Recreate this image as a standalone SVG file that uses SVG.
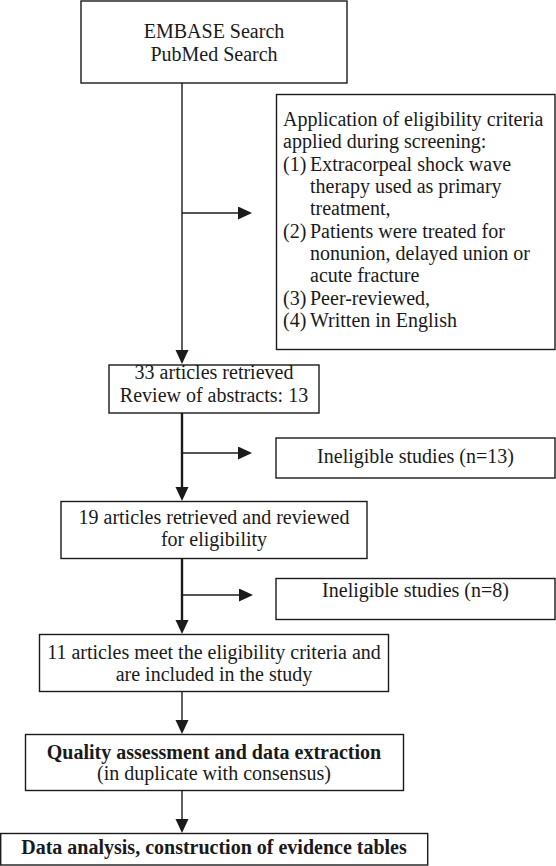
<svg xmlns="http://www.w3.org/2000/svg" width="556" height="866" viewBox="0 0 556 866">
<style>
  .box { fill: #ffffff; stroke: #1a1a1a; stroke-width: 1.4; }
  .t { font-family: "Liberation Serif", "Times New Roman", serif; font-size: 20px; fill: #1a1a1a; }
  .c { text-anchor: middle; }
  .b { font-weight: bold; }
  .thin { stroke: #1a1a1a; stroke-width: 1.4; fill: none; }
  .thick { stroke: #1a1a1a; stroke-width: 2.4; fill: none; }
</style>
<defs>
  <marker id="ah" markerUnits="userSpaceOnUse" markerWidth="15" markerHeight="14" refX="4" refY="6.5" orient="auto">
    <path d="M0,0 L14,6.5 L0,13 z" fill="#1a1a1a"/>
  </marker>
</defs>
<rect width="556" height="866" fill="#ffffff"/>

<g id="connectors">
  <line class="thin" x1="182" y1="83" x2="182" y2="354" marker-end="url(#ah)"/>
  <line class="thin" x1="182" y1="213" x2="242" y2="213" marker-end="url(#ah)"/>
  <line class="thick" x1="182" y1="413" x2="182" y2="491" marker-end="url(#ah)"/>
  <line class="thin" x1="182" y1="453" x2="242" y2="453" marker-end="url(#ah)"/>
  <line class="thick" x1="182" y1="558" x2="182" y2="624" marker-end="url(#ah)"/>
  <line class="thin" x1="182" y1="595" x2="243" y2="595" marker-end="url(#ah)"/>
  <line class="thin" x1="182" y1="691" x2="182" y2="724" marker-end="url(#ah)"/>
  <line class="thin" x1="182" y1="790" x2="182" y2="823" marker-end="url(#ah)"/>
</g>

<g id="search">
  <rect class="box" x="81" y="1" width="266" height="82"/>
  <text class="t c" x="214" y="38">EMBASE Search</text>
  <text class="t c" x="214" y="61">PubMed Search</text>
</g>

<g id="criteria">
  <rect class="box" x="276.5" y="94.5" width="278.5" height="255"/>
  <text class="t" x="283" y="126">Application of eligibility criteria</text>
  <text class="t" x="283" y="148.3">applied during screening:</text>
  <text class="t" x="283" y="170.7">(1)</text>
  <text class="t" x="310" y="170.7">Extracorpeal shock wave</text>
  <text class="t" x="310" y="193">therapy used as primary</text>
  <text class="t" x="310" y="215.3">treatment,</text>
  <text class="t" x="283" y="237.7">(2)</text>
  <text class="t" x="310" y="237.7">Patients were treated for</text>
  <text class="t" x="310" y="260">nonunion, delayed union or</text>
  <text class="t" x="310" y="282.3">acute fracture</text>
  <text class="t" x="283" y="304.7">(3)</text>
  <text class="t" x="310" y="304.7">Peer-reviewed,</text>
  <text class="t" x="283" y="327">(4)</text>
  <text class="t" x="310" y="327">Written in English</text>
</g>

<g id="retrieved33">
  <rect class="box" x="109" y="365" width="210" height="48"/>
  <text class="t c" x="214" y="379">33 articles retrieved</text>
  <text class="t c" x="214" y="402">Review of abstracts: 13</text>
</g>

<g id="ineligible13">
  <rect class="box" x="276" y="438" width="279" height="40"/>
  <text class="t c" x="415.5" y="463">Ineligible studies (n=13)</text>
</g>

<g id="retrieved19">
  <rect class="box" x="61" y="501.5" width="306" height="57"/>
  <text class="t c" x="214" y="523.5">19 articles retrieved and reviewed</text>
  <text class="t c" x="214" y="545.5">for eligibility</text>
</g>

<g id="ineligible8">
  <rect class="box" x="276" y="578.5" width="279" height="41"/>
  <text class="t c" x="415.5" y="597">Ineligible studies (n=8)</text>
</g>

<g id="included11">
  <rect class="box" x="39.5" y="634.5" width="349" height="57"/>
  <text class="t c" x="214" y="658.5">11 articles meet the eligibility criteria and</text>
  <text class="t c" x="214" y="681">are included in the study</text>
</g>

<g id="quality">
  <rect class="box" x="25.5" y="734.5" width="378" height="56"/>
  <text class="t c b" x="214" y="758.5">Quality assessment and data extraction</text>
  <text class="t c" x="214" y="779.5">(in duplicate with consensus)</text>
</g>

<g id="analysis">
  <rect class="box" x="0.7" y="833.5" width="427" height="31.5"/>
  <text class="t c b" x="214" y="853.5">Data analysis, construction of evidence tables</text>
</g>
</svg>
